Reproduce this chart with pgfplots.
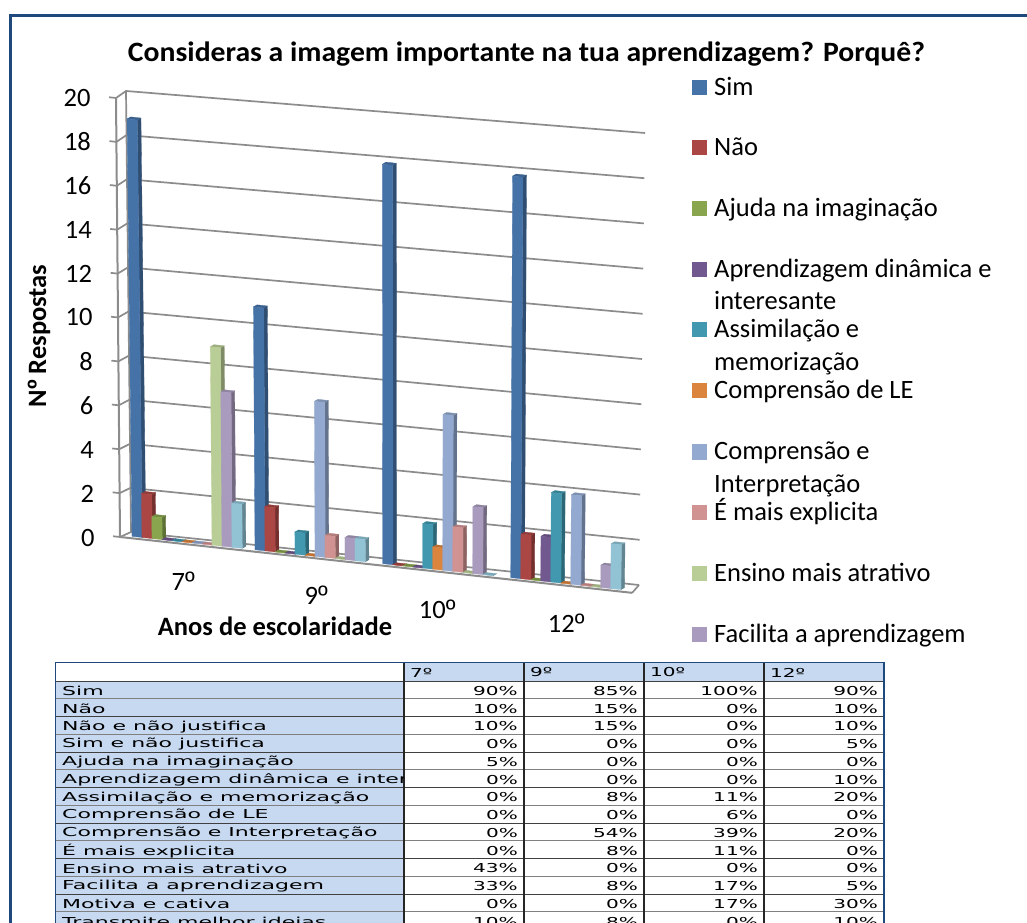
\documentclass[border=0pt]{standalone}
\usepackage{pgfplots}
\pgfplotsset{compat=1.18}
\usepackage{fontspec}
\usepackage{graphicx}
\setmainfont{Carlito}
\newfontfamily\ordfont{Liberation Sans}
\newfontfamily\tablefont{DejaVu Sans}
\newcommand\ord{{\ordfont º}}
\definecolor{c1}{HTML}{4572A7}
\definecolor{c2}{HTML}{AA4643}
\definecolor{c3}{HTML}{89A54E}
\definecolor{c4}{HTML}{71588F}
\definecolor{c5}{HTML}{4198AF}
\definecolor{c6}{HTML}{DB843D}
\definecolor{c7}{HTML}{93A9CF}
\definecolor{c8}{HTML}{D19392}
\definecolor{c9}{HTML}{B9CD96}
\definecolor{c10}{HTML}{A99BBD}
\definecolor{c11}{HTML}{91C3D5}
\definecolor{frame}{HTML}{1F497D}
\definecolor{cellb}{HTML}{C6D9F1}
\definecolor{gridc}{HTML}{8C8C8C}
% one bar: #1 slot, #2 group start, #3 value, #4 colour
\newcommand\B[4]{%
  \pgfmathsetmacro\xa{#2+10*#1}%
  \pgfmathsetmacro\xb{\xa+10.3}%
  \pgfmathsetmacro\xc{\xb+3.6}%
  \pgfmathsetmacro\xd{\xa+3.6}%
  \pgfmathsetmacro\ya{0.09}%
  \pgfmathsetmacro\yb{0.09+#3*(1+0.00004*\xa)}%
  \pgfmathsetmacro\yc{\ya+0.11}%
  \pgfmathsetmacro\yd{\yb+0.11}%
  \pgfmathsetmacro\ts{#3*(-0.07+0.00098*\xa)}%
  \pgfmathsetmacro\xat{\xa+\ts}%
  \pgfmathsetmacro\xbt{\xb+\ts}%
  \pgfmathsetmacro\xct{\xc+\ts}%
  \pgfmathsetmacro\xdt{\xd+\ts}%
  \edef\temp{%
    \noexpand\addplot[forget plot,mark=none,line width=0.3pt,draw=#4!68!black,fill=#4!68!black] coordinates {(\xb,\ya)(\xc,\yc)(\xct,\yd)(\xbt,\yb)(\xb,\ya)};
    \noexpand\addplot[forget plot,mark=none,line width=0.3pt,draw=#4!85!black,fill=#4!85!black] coordinates {(\xat,\yb)(\xbt,\yb)(\xct,\yd)(\xdt,\yd)(\xat,\yb)};
    \noexpand\addplot[forget plot,mark=none,line width=0.3pt,draw=#4,fill=#4] coordinates {(\xa,\ya)(\xb,\ya)(\xbt,\yb)(\xat,\yb)(\xa,\ya)};
  }\temp}
\newcommand\series[6]{\B{#1}{12}{#3}{#2}\B{#1}{135}{#4}{#2}\B{#1}{262.7}{#5}{#2}\B{#1}{390.7}{#6}{#2}}
\begin{document}
\begin{tikzpicture}
\clip (0,0) rectangle (1027pt,922pt);
\path[use as bounding box] (0,0) rectangle (1027pt,922pt);
\begin{scope}[x=1pt,y=-1pt,yshift=922pt]
  % frame
  \draw[frame,line width=2.2pt] (1030,15.5) -- (10.5,15.5) -- (10.5,925);
  % back wall grid
  \foreach \v in {0,2,...,20}{
    \pgfmathsetmacro\ax{120-4*\v/20}
    \pgfmathsetmacro\ay{537-439*\v/20}
    \pgfmathsetmacro\bx{131-5*\v/20}
    \pgfmathsetmacro\by{532-441*\v/20}
    \pgfmathsetmacro\cx{639+6*\v/20}
    \pgfmathsetmacro\cy{585-452*\v/20}
    \draw[gridc,line width=1.7pt] (\ax,\ay) -- (\bx,\by) -- (\cx,\cy);
  }
  \draw[gridc,line width=1.7pt] (131,532) -- (126,91);
  \draw[gridc,line width=1.7pt] (632,593) -- (639,585);
\end{scope}
\begin{axis}[
  at={(120pt,385pt)},anchor=origin,
  x={(1pt,-0.109pt)},y={(-0.2pt,21.95pt)},
  xmin=0,xmax=512,ymin=0,ymax=20,
  clip=false,
  axis lines=left,
  axis line style={-,gridc,line width=2pt},
  ytick={0,2,...,20},
  xtick={63,196,317,446},
  xticklabels={7\ord,9\ord,10\ord,12\ord},
  x tick style={draw=none},
  y tick style={gridc,line width=1.7pt},
  tick align=outside,
  major tick length=7pt,
  /pgf/number format/assume math mode=true,
  yticklabel style={font=\fontsize{26.5}{28}\selectfont,xshift=-15pt,yshift=-2.5pt},
  xticklabel style={font=\fontsize{26.5}{28}\selectfont,yshift=-17.5pt},
]
\series{0}{c1}{19}{11}{18}{18}
\series{1}{c2}{2}{2}{0}{2}
\series{2}{c3}{1}{0}{0}{0}
\series{3}{c4}{0}{0}{0}{2}
\series{4}{c5}{0}{1}{2}{4}
\series{5}{c6}{0}{0}{1}{0}
\series{6}{c7}{0}{7}{7}{4}
\series{7}{c8}{0}{1}{2}{0}
\series{8}{c9}{9}{0}{0}{0}
\series{9}{c10}{7}{1}{3}{1}
\series{10}{c11}{2}{1}{0}{2}
\end{axis}
\begin{scope}[x=1pt,y=-1pt,yshift=922pt]
  \node[inner sep=0] at (526.5,54) {\resizebox{797pt}{\height}{\bfseries\fontsize{28}{32}\selectfont Consideras a imagem importante na tua aprendizagem? Porquê?}};
  \node[font=\bfseries\fontsize{26.5}{30}\selectfont,inner sep=0,rotate=90] at (39,336) {N{\ordfont\bfseries º} Respostas};
  \node[font=\bfseries\fontsize{26.5}{30}\selectfont,inner sep=0] at (275,626) {Anos de escolaridade};
  % legend
  \foreach \y/\c/\t in {88/c1/Sim,148/c2/Não,209/c3/Ajuda na imaginação,270/c4/Aprendizagem dinâmica e,330/c5/Assimilação e,391/c6/Comprensão de LE,452/c7/Comprensão e,512/c8/É mais explicita,573/c9/Ensino mais atrativo,634/c10/Facilita a aprendizagem}{
    \fill[\c] (692,\y-7.5) rectangle +(15,15);
    \node[anchor=base west,inner sep=0,font=\fontsize{26.5}{30}\selectfont] at (714,\y+8) {\t};
  }
  \foreach \y/\t in {302/interesante,363/memorização,484/Interpretação}{
    \node[anchor=base west,inner sep=0,font=\fontsize{26.5}{30}\selectfont] at (714,\y+8) {\t};
  }
  % table
  \fill[cellb] (56,681) rectangle (404,930);
  \fill[cellb] (404,663) rectangle (884,681);
  \foreach \i in {0,...,14}{
    \pgfmathsetmacro\ly{681+17.75*\i}
    \pgfmathtruncatemacro\odd{mod(\i,2)}
    \ifnum\odd=0 \draw[black!75,line width=0.9pt] (56,\ly) -- (884,\ly);
    \else \draw[black!50,line width=1.1pt] (56,\ly) -- (884,\ly); \fi
  }
  \foreach \x in {404,524,644,764}{\draw[black!85,line width=1.2pt] (\x,663) -- (\x,930);}
  \draw[frame,line width=1.8pt] (55.5,930) -- (55.5,662.5) -- (884,662.5) -- (884,930);
  \foreach \x/\t in {410/7º,530/9º,650/10º,770/12º}{
    \node[anchor=west,inner sep=0] at (\x,672.5) {\scalebox{1.63}[1]{\tablefont\fontsize{12.3}{14}\selectfont\t}};
  }
  \foreach \i/\n/\a/\b/\c/\d in {
    0/Sim/90/85/100/90,
    1/Não/10/15/0/10,
    2/Não e não justifica/10/15/0/10,
    3/Sim e não justifica/0/0/0/5,
    4/Ajuda na imaginação/5/0/0/0,
    5/Aprendizagem dinâmica e intere/0/0/0/10,
    6/Assimilação e memorização/0/8/11/20,
    7/Comprensão de LE/0/0/6/0,
    8/Comprensão e Interpretação/0/54/39/20,
    9/É mais explicita/0/8/11/0,
    10/Ensino mais atrativo/43/0/0/0,
    11/Facilita a aprendizagem/33/8/17/5,
    12/Motiva e cativa/0/0/17/30,
    13/Transmite melhor ideias/10/8/0/10}{
    \pgfmathsetmacro\ty{691+17.75*\i}
    \begin{scope}
      \clip (56,\ty-9) rectangle (403,\ty+9);
      \node[anchor=west,inner sep=0] at (62,\ty) {\scalebox{1.79}[1]{\tablefont\fontsize{12.3}{14}\selectfont\n}};
    \end{scope}
    \node[anchor=east,inner sep=0] at (518,\ty) {\scalebox{1.63}[1]{\tablefont\fontsize{12.3}{14}\selectfont\a\%}};
    \node[anchor=east,inner sep=0] at (638,\ty) {\scalebox{1.63}[1]{\tablefont\fontsize{12.3}{14}\selectfont\b\%}};
    \node[anchor=east,inner sep=0] at (758,\ty) {\scalebox{1.63}[1]{\tablefont\fontsize{12.3}{14}\selectfont\c\%}};
    \node[anchor=east,inner sep=0] at (878,\ty) {\scalebox{1.63}[1]{\tablefont\fontsize{12.3}{14}\selectfont\d\%}};
  }
\end{scope}
\end{tikzpicture}
\end{document}
